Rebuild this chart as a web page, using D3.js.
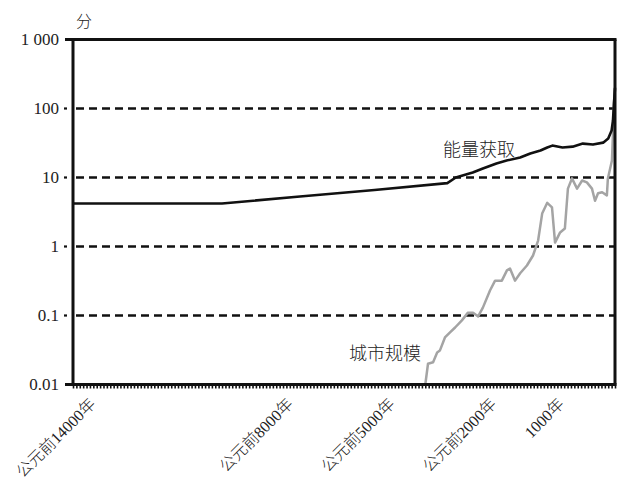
<!DOCTYPE html>
<html>
<head>
<meta charset="utf-8">
<script src="https://cdn.jsdelivr.net/npm/d3@7"></script>
<style>
  html, body { margin: 0; padding: 0; background: #fff; }
  svg { display: block; }
  text { font-family: "Liberation Serif", "Noto Sans CJK SC", serif; fill: #222; font-weight: 300; }
</style>
</head>
<body>
<svg id="chart" width="628" height="486"></svg>
<script>
// ---- data ----
const energyYears  = [-14000, -9600, -7300, -5100, -2950, -2700, -2200, -1900, -1500, -1200, -800, -500, -200, 0, 150, 450, 750, 1050, 1350, 1650, 1800, 1900, 1940, 1970, 2000];
const energyValues = [4.2, 4.2, 5.3, 6.6, 8.3, 10, 11.8, 13.5, 16, 17.6, 19.5, 22.3, 24.6, 27.2, 29, 27.2, 28, 31, 30, 32, 36.7, 48, 67, 120, 200];

const cityYears  = [-3600, -3520, -3370, -3250, -3170, -3020, -2870, -2720, -2520, -2340, -2190, -2040, -1900, -1690, -1540, -1340, -1190, -1100, -950, -800, -600, -420, -270, -150, 0, 140, 230, 380, 520, 610, 730, 880, 1030, 1170, 1320, 1410, 1500, 1620, 1760, 1790, 1910, 1940, 1970, 2000];
const cityValues = [0.01, 0.020, 0.021, 0.029, 0.031, 0.048, 0.057, 0.067, 0.085, 0.11, 0.11, 0.097, 0.13, 0.23, 0.32, 0.32, 0.45, 0.48, 0.32, 0.41, 0.53, 0.74, 1.22, 3.0, 4.3, 3.7, 1.14, 1.6, 1.82, 6.9, 9.7, 6.9, 9.05, 8.5, 6.9, 4.6, 5.9, 6.1, 5.5, 9.7, 17.6, 43, 120, 190];

const yTickValues = [0.01, 0.1, 1, 10, 100, 1000];
const yTickLabels = ["0.01", "0.1", "1", "10", "100", "1 000"];
const gridValues  = [0.1, 1, 10, 100];

const xTickYears  = [-14000, -8000, -5000, -2000, 1000];
const xTickLabels = ["公元前14000年", "公元前8000年", "公元前5000年", "公元前2000年", "1000年"];
const xDomain = [-14000, 2000];
const minorStep = 100;

const yUnit = "分";
const energyLabel = "能量获取";
const cityLabel = "城市规模";

// ---- drawing ----
const svg = d3.select("#chart");
const mLeft = 73, mRight = 615, mTop = 39.5, mBottom = 384.5;

const x = d3.scaleLinear().domain(xDomain).range([mLeft, mRight]);
const y = d3.scaleLog().domain([0.01, 1000]).range([mBottom, mTop]);

// grid (dashed)
svg.append("g").selectAll("line").data(gridValues).join("line")
  .attr("x1", mLeft + 3).attr("x2", mRight)
  .attr("y1", d => y(d)).attr("y2", d => y(d))
  .attr("stroke", "#111").attr("stroke-width", 2.6)
  .attr("stroke-dasharray", "8,5");

// city line (gray)
const line = d3.line().x(d => x(d[0])).y(d => y(d[1]));
svg.append("path")
  .datum(cityYears.map((d, i) => [d, cityValues[i]]))
  .attr("d", line).attr("fill", "none")
  .attr("stroke", "#a4a4a4").attr("stroke-width", 2.5)
  .attr("stroke-linejoin", "round");

// energy line (black)
svg.append("path")
  .datum(energyYears.map((d, i) => [d, energyValues[i]]))
  .attr("d", line).attr("fill", "none")
  .attr("stroke", "#111").attr("stroke-width", 2.6)
  .attr("stroke-linejoin", "round");

// frame: top, left, right
svg.append("line").attr("x1", 65).attr("x2", mRight + 1.5).attr("y1", y(1000)).attr("y2", y(1000))
  .attr("stroke", "#111").attr("stroke-width", 3);
svg.append("line").attr("x1", mLeft).attr("x2", mLeft).attr("y1", y(1000)).attr("y2", y(0.01))
  .attr("stroke", "#111").attr("stroke-width", 3);
svg.append("line").attr("x1", mRight).attr("x2", mRight).attr("y1", y(1000)).attr("y2", y(0.01))
  .attr("stroke", "#111").attr("stroke-width", 3);

// bottom axis with dense minor ticks
const xAxis = d3.axisBottom(x)
  .tickValues(d3.range(xDomain[0], xDomain[1] + 1, minorStep))
  .tickSize(4).tickSizeOuter(0).tickFormat("");
const gx = svg.append("g").attr("transform", `translate(0,${mBottom})`).call(xAxis);
gx.select(".domain").remove();
gx.selectAll(".tick line").attr("stroke", "#111").attr("stroke-width", 1.6);
svg.append("line").attr("x1", 65).attr("x2", mRight + 1.5).attr("y1", mBottom).attr("y2", mBottom)
  .attr("stroke", "#111").attr("stroke-width", 3);

// y ticks (small marks) and labels
svg.append("g").selectAll("line").data(yTickValues.slice(1, -1)).join("line")
  .attr("x1", 64).attr("x2", 67)
  .attr("y1", d => y(d)).attr("y2", d => y(d))
  .attr("stroke", "#111").attr("stroke-width", 2.2);
svg.append("g").selectAll("text").data(yTickValues).join("text")
  .attr("x", 59).attr("y", d => y(d)).attr("dy", "0.35em")
  .attr("text-anchor", "end").attr("font-size", 17)
  .text((d, i) => yTickLabels[i]);

// unit label
svg.append("text").attr("x", 84).attr("y", 27).attr("text-anchor", "middle")
  .attr("font-size", 16).text(yUnit);

// x labels (rotated)
const xl = svg.append("g").selectAll("text").data(xTickYears).join("text")
  .attr("font-size", 16).attr("text-anchor", "start")
  .text((d, i) => xTickLabels[i]);
xl.each(function(d) {
  const L = this.getComputedTextLength();
  const sx = x(d) - 50;
  const sy = 405 + L * Math.SQRT1_2;
  d3.select(this).attr("transform", `translate(${sx},${sy}) rotate(-45)`);
});

// series labels
svg.append("text").attr("x", 443).attr("y", 156).attr("font-size", 18).text(energyLabel);
svg.append("text").attr("x", 349).attr("y", 360).attr("font-size", 18).text(cityLabel);
</script>
</body>
</html>
